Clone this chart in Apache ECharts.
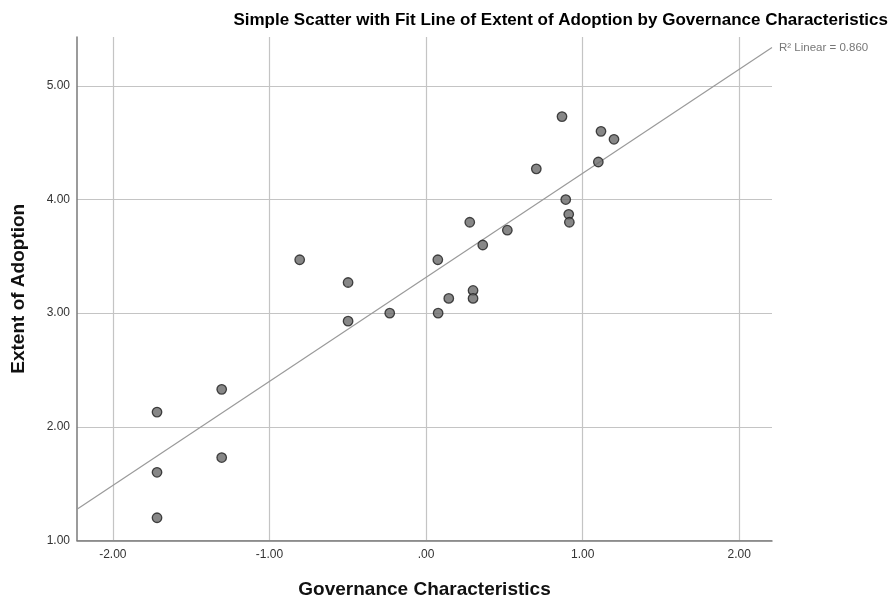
<!DOCTYPE html>
<html>
<head>
<meta charset="utf-8">
<script src="https://cdn.jsdelivr.net/npm/echarts@6/dist/echarts.min.js"></script>
<style>html,body{margin:0;padding:0;background:#fff}#c{width:890px;height:602px}</style>
</head>
<body>
<div id="c"></div>
<script>
// Data
const governance = [0.868, 1.117, 1.200, 1.100, 0.704, 0.892, 0.911, 0.915, 0.279, 0.519, 0.362, 0.075, 0.300, 0.300, 0.145, 0.077, -0.807, -0.498, -0.498, -0.232, -1.718, -1.305, -1.305, -1.718, -1.718];
const adoption   = [4.73, 4.60, 4.53, 4.33, 4.27, 4.00, 3.87, 3.80, 3.80, 3.73, 3.60, 3.47, 3.20, 3.13, 3.13, 3.00, 3.47, 3.27, 2.93, 3.00, 2.13, 2.33, 1.73, 1.60, 1.20];
const xTicks = [-2, -1, 0, 1, 2];
const yTicks = [1, 2, 3, 4, 5];
const titleText = 'Simple Scatter with Fit Line of Extent of Adoption by Governance Characteristics';
const xName = 'Governance Characteristics';
const yName = 'Extent of Adoption';
const r2Label = 'R\u00B2 Linear = 0.860';
const xMin = -2.229, xMax = 2.209, yMin = 1, yMax = 5.43;

// OLS fit
const n = governance.length;
const mx = governance.reduce((a, b) => a + b, 0) / n;
const my = adoption.reduce((a, b) => a + b, 0) / n;
let sxy = 0, sxx = 0;
for (let i = 0; i < n; i++) { sxy += (governance[i] - mx) * (adoption[i] - my); sxx += (governance[i] - mx) ** 2; }
const slope = sxy / sxx, intercept = my - slope * mx;
const fitData = [[xMin, intercept + slope * xMin], [xMax, intercept + slope * xMax]];

const fmt = v => { const s = Number(v).toFixed(2); return s === '0.00' ? '.00' : s; };
const font = '"Liberation Sans", Arial, sans-serif';

const chart = echarts.init(document.getElementById('c'), null, { renderer: 'canvas' });
chart.setOption({
  animation: false,
  title: {
    text: titleText, right: 2, top: 12, padding: 0,
    textStyle: { fontFamily: font, fontSize: 17, fontWeight: 'bold', color: '#000' }
  },
  grid: { left: 77, right: 118, top: 37, bottom: 61.5, containLabel: false, outerBoundsMode: 'none' },
  xAxis: {
    type: 'value', min: xMin, max: xMax,
    name: xName, nameLocation: 'middle', nameGap: 40,
    nameTextStyle: { fontFamily: font, fontSize: 19, fontWeight: 'bold', color: '#111' },
    axisLine: { show: true, onZero: false, lineStyle: { color: '#7a7a7a', width: 1.5 } },
    axisTick: { show: false, customValues: xTicks },
    axisLabel: { customValues: xTicks, formatter: fmt, fontFamily: font, fontSize: 12, color: '#333', margin: 8 },
    splitLine: { show: true, lineStyle: { color: '#c4c4c4', width: 1.2 } }
  },
  yAxis: {
    type: 'value', min: yMin, max: yMax,
    name: yName, nameLocation: 'middle', nameGap: 49, nameRotate: 90,
    nameTextStyle: { fontFamily: font, fontSize: 19, fontWeight: 'bold', color: '#111' },
    axisLine: { show: true, onZero: false, lineStyle: { color: '#7a7a7a', width: 1.5 } },
    axisTick: { show: false, customValues: yTicks },
    axisLabel: { customValues: yTicks, formatter: fmt, fontFamily: font, fontSize: 12, color: '#333', margin: 7 },
    splitLine: { show: true, lineStyle: { color: '#c4c4c4', width: 1.2 } }
  },
  series: [
    {
      type: 'line', data: fitData, symbol: 'none', clip: false, silent: true, z: 1,
      lineStyle: { color: '#9a9a9a', width: 1.2 },
      endLabel: { show: true, formatter: r2Label, fontFamily: font, fontSize: 11.5, color: '#777', distance: 6, offset: [1, 0] }
    },
    {
      type: 'scatter', data: governance.map((x, i) => [x, adoption[i]]),
      symbol: 'circle', symbolSize: 9.5, z: 3,
      itemStyle: { color: '#696969', borderColor: '#1e1e1e', borderWidth: 1.3 }
    }
  ]
});
</script>
</body>
</html>
